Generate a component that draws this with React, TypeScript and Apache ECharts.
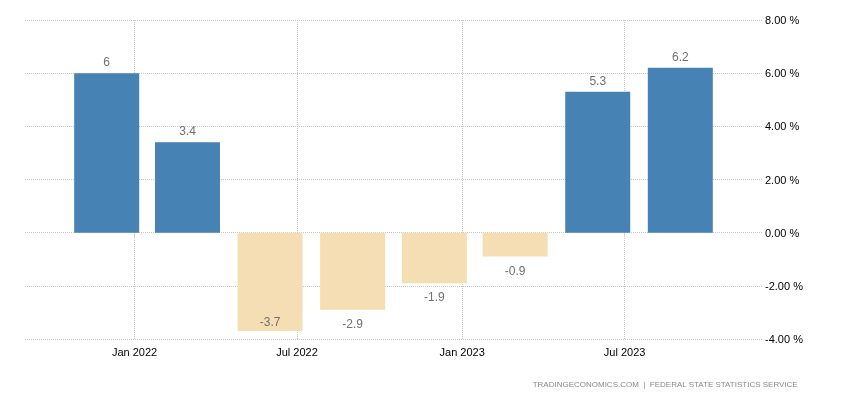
import React, { useEffect, useRef } from "react";
import * as echarts from "echarts";

const barDates = ["2021-12-01", "2022-03-01", "2022-06-01", "2022-09-01", "2022-12-01", "2023-03-01", "2023-06-01", "2023-09-01"];
const values = [6, 3.4, -3.7, -2.9, -1.9, -0.9, 5.3, 6.2];
const tickDates = ["2022-01-01", "2022-07-01", "2023-01-01", "2023-07-01"];
const tickLabels = ["Jan 2022", "Jul 2022", "Jan 2023", "Jul 2023"];
const axisStart = "2021-09-01";
const axisEnd = "2023-12-01";
const yMin = -4;
const yMax = 8;
const yStep = 2;
const sourceText = "TRADINGECONOMICS.COM  |  FEDERAL STATE STATISTICS SERVICE";

const DAY = 86400000;
const dayOf = (s: string) => Math.round((new Date(s + "T00:00:00Z").getTime() - new Date(axisStart + "T00:00:00Z").getTime()) / DAY);

export default function App() {
  const ref = useRef<HTMLDivElement>(null);
  useEffect(() => {
    if (!ref.current) return;
    const chart = echarts.init(ref.current, null, { renderer: "svg" });
    const tickDays = tickDates.map(dayOf);
    const data = values.map((v, i) => {
      let position = v >= 0 ? "top" : "bottom";
      let distance = v >= 0 ? 5 : 8;
      if (v < yMin + 0.6) {
        position = "insideBottom";
        distance = 3;
      }
      return {
        value: [dayOf(barDates[i]), v],
        itemStyle: { color: v >= 0 ? "#4682B4" : "#F5DEB3" },
        label: { show: true, position, distance },
      };
    });
    chart.setOption({
      animation: false,
      grid: { left: 25, right: 88, top: 20, bottom: 61 },
      xAxis: {
        type: "value",
        min: 0,
        max: dayOf(axisEnd),
        axisLine: { show: false },
        axisTick: {
          show: true,
          length: 4,
          customValues: tickDays,
          lineStyle: { color: "#c8c8c8", type: "dotted" },
        },
        axisLabel: {
          customValues: tickDays,
          color: "#000",
          fontSize: 11,
          fontFamily: "Arial, 'Liberation Sans', sans-serif",
          margin: 7,
          formatter: (val: number) => {
            const idx = tickDays.indexOf(val);
            return idx >= 0 ? tickLabels[idx] : "";
          },
        },
        splitLine: {
          show: true,
          lineStyle: { color: "#c8c8c8", type: "dotted" },
        },
      },
      yAxis: {
        type: "value",
        position: "right",
        min: yMin,
        max: yMax,
        interval: yStep,
        axisLine: { show: false },
        axisTick: { show: false },
        axisLabel: {
          color: "#000",
          fontSize: 11,
          fontFamily: "Arial, 'Liberation Sans', sans-serif",
          margin: 3,
          formatter: (v: number) => v.toFixed(2) + " %",
        },
        splitLine: { show: true, lineStyle: { color: "#c8c8c8", type: "dotted" } },
      },
      series: [
        {
          type: "bar",
          barWidth: 65,
          data,
          label: {
            color: "#707070",
            fontSize: 12,
            fontFamily: "Arial, 'Liberation Sans', sans-serif",
            formatter: (p: any) => String(p.value[1]),
          },
        },
      ],
      graphic: [
        {
          type: "text",
          right: 52,
          top: 380,
          style: {
            text: sourceText,
            fill: "#8a8a8a",
            fontSize: 8,
            fontFamily: "Arial, 'Liberation Sans', sans-serif",
          },
        },
      ],
    });
    return () => chart.dispose();
  }, []);
  return <div ref={ref} style={{ position: "fixed", left: 0, top: 0, width: 850, height: 400 }} />;
}
